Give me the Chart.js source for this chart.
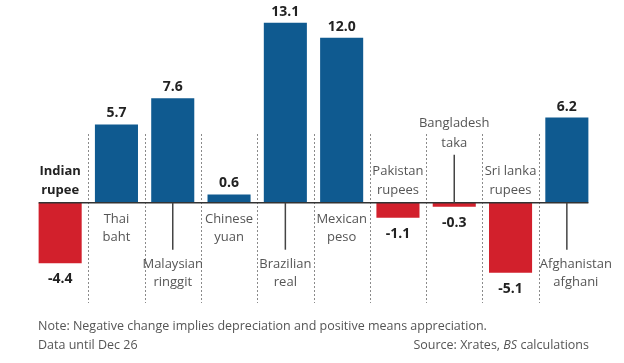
<!DOCTYPE html>
<html>
<head>
<meta charset="utf-8">
<script src="https://cdn.jsdelivr.net/npm/chart.js@4"></script>
<style>
  html, body { margin: 0; padding: 0; background: #fff; }
  #wrap { position: relative; width: 624px; height: 363px; }
  .note { position: absolute; font-family: "Open Sans", sans-serif; font-size: 12.5px; color: #555; white-space: nowrap; }
  .note i { font-style: italic; }
</style>
</head>
<body>
<div id="wrap">
  <canvas id="fxChart" width="624" height="363"></canvas>
  <div class="note" style="left:38px; top:317px;">Note: Negative change implies depreciation and positive means appreciation.</div>
  <div class="note" style="left:38px; top:336px;">Data until Dec 26</div>
  <div class="note" style="right:35px; top:336px;">Source: Xrates, <i>BS</i> calculations</div>
</div>
<script>
// data
var currencies = [
  ['Indian', 'rupee'], ['Thai', 'baht'], ['Malaysian', 'ringgit'], ['Chinese', 'yuan'],
  ['Brazilian', 'real'], ['Mexican', 'peso'], ['Pakistan', 'rupees'], ['Bangladesh', 'taka'],
  ['Sri lanka', 'rupees'], ['Afghanistan', 'afghani']
];
var changePct = [-4.4, 5.7, 7.6, 0.6, 13.1, 12.0, -1.1, -0.3, -5.1, 6.2];

// where each category label sits: above/below zero line, near or far (with connector)
var labelPlace = ['above', 'below', 'belowFar', 'below', 'belowFar', 'below', 'above', 'aboveFar', 'above', 'belowFar'];

var blue = '#0f5a90';
var red = '#d2202c';

// dotted separators, zero line, category labels, value labels
var annotate = {
  id: 'annotate',
  afterDatasetsDraw: function(chart) {
    var c = chart.ctx;
    var xs = chart.scales.x, ys = chart.scales.y;
    var meta = chart.getDatasetMeta(0);
    var zero = ys.getPixelForValue(0);
    var n = currencies.length;
    var step = xs.width / n;

    c.save();
    // dotted separators between categories
    c.strokeStyle = '#8a8a8a';
    c.lineWidth = 1;
    c.setLineDash([2, 2]);
    for (var i = 1; i < n; i++) {
      var sx = Math.round(xs.left + step * i) + 0.5;
      c.beginPath();
      c.moveTo(sx, ys.getPixelForValue(5));
      c.lineTo(sx, chart.chartArea.bottom);
      c.stroke();
    }
    c.setLineDash([]);

    // zero line
    var first = meta.data[0], last = meta.data[n - 1];
    c.strokeStyle = '#333';
    c.lineWidth = 1.5;
    c.beginPath();
    c.moveTo(first.x - first.width / 2, zero);
    c.lineTo(last.x + last.width / 2, zero);
    c.stroke();

    c.textAlign = 'center';
    c.textBaseline = 'middle';
    meta.data.forEach(function(bar, i) {
      var v = changePct[i];
      // value labels
      c.fillStyle = '#222';
      c.font = 'bold 14px "Open Sans"';
      var vy = v >= 0 ? bar.y - 11 : bar.y + 16;
      c.fillText(v.toFixed(1), bar.x, vy);

      // category labels
      var p = labelPlace[i];
      var y1, y2;
      var lx = bar.x + (i === n - 1 ? 9 : 0);
      c.strokeStyle = '#444';
      c.lineWidth = 1.5;
      if (p === 'above') { y1 = zero - 31; y2 = zero - 12; }
      else if (p === 'below') { y1 = zero + 17; y2 = zero + 35; }
      else if (p === 'belowFar') {
        y1 = zero + 62; y2 = zero + 80;
        c.beginPath(); c.moveTo(bar.x, zero); c.lineTo(bar.x, zero + 47); c.stroke();
      } else {
        y1 = zero - 79; y2 = zero - 59;
        c.beginPath(); c.moveTo(bar.x, zero - 48); c.lineTo(bar.x, zero); c.stroke();
      }
      if (i === 0) { c.fillStyle = '#222'; c.font = 'bold 13px "Open Sans"'; }
      else { c.fillStyle = '#555'; c.font = '13px "Open Sans"'; }
      c.fillText(currencies[i][0], lx, y1);
      c.fillText(currencies[i][1], lx, y2);
    });
    c.restore();
  }
};

var ctx = document.getElementById('fxChart').getContext('2d');
var fxChart = new Chart(ctx, {
  type: 'bar',
  data: {
    labels: currencies.map(function(l) { return l.join(' '); }),
    datasets: [{
      data: changePct,
      backgroundColor: changePct.map(function(v) { return v < 0 ? red : blue; }),
      borderWidth: 0,
      categoryPercentage: 1,
      barPercentage: 0.765
    }]
  },
  options: {
    responsive: false,
    animation: false,
    layout: { padding: { left: 32, right: 29, top: 9, bottom: 60 } },
    plugins: { legend: { display: false }, tooltip: { enabled: false } },
    scales: {
      x: { display: false },
      y: { display: false, min: -7.3, max: 14.1 }
    }
  },
  plugins: [annotate]
});
</script>
</body>
</html>
